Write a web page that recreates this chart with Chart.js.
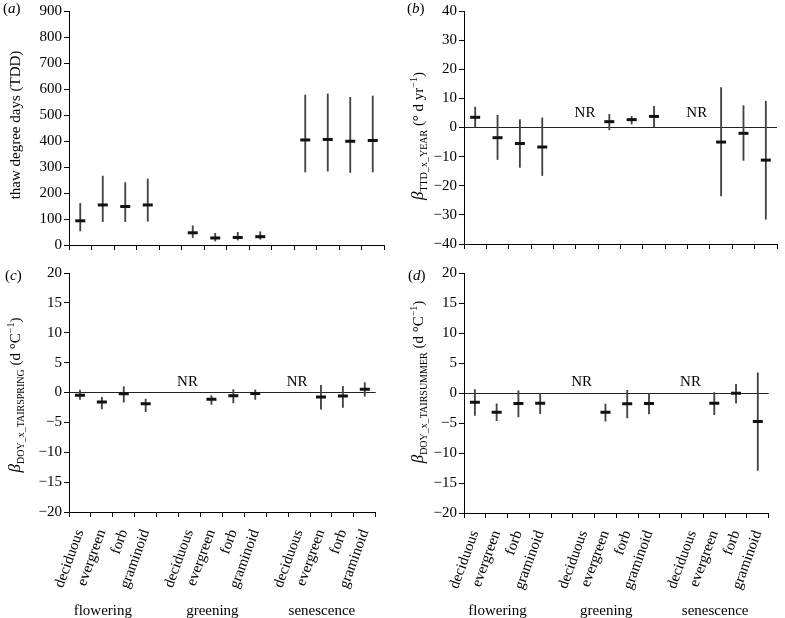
<!DOCTYPE html>
<html lang="en">
<head>
<meta charset="UTF-8">
<title>Phenology panels</title>
<script src="https://cdn.jsdelivr.net/npm/chart.js"></script>
<style>
    body { margin: 0; background: #fff; }
    .panel { position: absolute; }
</style>
</head>
<body>
<div class="panel" style="left:0;top:0"><canvas id="chartA" width="392" height="262"></canvas></div>
<div class="panel" style="left:392px;top:0"><canvas id="chartB" width="393" height="262"></canvas></div>
<div class="panel" style="left:0;top:262px"><canvas id="chartC" width="392" height="356"></canvas></div>
<div class="panel" style="left:392px;top:262px"><canvas id="chartD" width="393" height="356"></canvas></div>

<script>
// categories: 3 phenophases x 4 growth forms, with an empty slot between groups
const slots = ['deciduous', 'evergreen', 'forb', 'graminoid', '',
               'deciduous', 'evergreen', 'forb', 'graminoid', '',
               'deciduous', 'evergreen', 'forb', 'graminoid'];
const groups = ['flowering', 'greening', 'senescence'];
const groupMid = [1.5, 6.5, 11.5];
const nrSlots = [5, 10];

// (a) thaw degree days
const tddMean = [93, 154, 148, 154, null, 47, 27, 29, 32, null, 404, 406, 399, 402];
const tddLow  = [54, 90, 90, 91, null, 28, 15, 19, 22, null, 281, 284, 279, 281];
const tddHigh = [160, 265, 240, 254, null, 74, 45, 49, 51, null, 577, 581, 568, 573];

// (b) TDD x YEAR
const yearMean = [3.5, -3.5, -5.5, -6.7, null, null, 2, 2.7, 3.8, null, null, -5, -2, -11.2];
const yearLow  = [0, -11, -13.7, -16.5, null, null, -0.8, 1.2, 0, null, null, -23.5, -11.3, -31.5];
const yearHigh = [7, 4.2, 2.7, 3.3, null, null, 4.5, 3.8, 7.3, null, null, 13.7, 7.5, 9];

// (c) DOY x TAIRSPRING
const springMean = [-0.45, -1.6, -0.2, -1.9, null, null, -1.15, -0.55, -0.15, null, null, -0.75, -0.6, 0.55];
const springLow  = [-1.15, -2.75, -1.6, -3.2, null, null, -2.0, -1.75, -1.15, null, null, -2.8, -2.5, -0.6];
const springHigh = [0.4, -0.8, 1.0, -1.1, null, null, -0.5, 0.5, 0.45, null, null, 1.2, 1.05, 1.65];

// (d) DOY x TAIRSUMMER
const summerMean = [-1.55, -3.2, -1.75, -1.7, null, null, -3.2, -1.8, -1.75, null, null, -1.7, -0.05, -4.75];
const summerLow  = [-3.75, -4.6, -4.0, -3.45, null, null, -4.7, -4.15, -3.5, null, null, -3.6, -1.7, -12.9];
const summerHigh = [0.55, -1.8, 0.35, 0, null, null, -1.85, 0.45, 0, null, null, 0.05, 1.45, 3.35];

const SERIF = '"Liberation Serif", "Times New Roman", serif';
Chart.defaults.font.family = SERIF;
Chart.defaults.font.size = 15;
Chart.defaults.color = '#000';

function drawParts(ctx, parts, x, y, rotate, align) {
    ctx.save();
    ctx.translate(x, y);
    if (rotate) ctx.rotate(-Math.PI / 2);
    ctx.textBaseline = 'alphabetic';
    ctx.textAlign = 'left';
    ctx.fillStyle = '#000';
    let total = 0;
    parts.forEach(p => { ctx.font = p.font; total += ctx.measureText(p.t).width; });
    let px = align === 'center' ? -total / 2 : 0;
    parts.forEach(p => {
        ctx.font = p.font;
        ctx.fillText(p.t, px, p.dy || 0);
        px += ctx.measureText(p.t).width;
    });
    ctx.restore();
}

const F = '15px ' + SERIF;
const FI = 'italic 15px ' + SERIF;
const FB = 'italic 17px ' + SERIF;
const FS = '10px ' + SERIF;

function betaTitle(sub, unit) {
    return [
        { t: '\u03B2', font: FB },
        { t: sub, font: FS, dy: 4 },
        { t: ' (' + unit, font: F },
        { t: '\u22121', font: FS, dy: -6 },
        { t: ')', font: F }
    ];
}

function makePanel(id, cfg) {
    const canvas = document.getElementById(id);
    const W = canvas.width, H = canvas.height;
    const extras = {
        id: 'extras',
        afterDraw(chart) {
            const ctx = chart.ctx;
            const xs = chart.scales.x, ys = chart.scales.y;
            // panel letter
            drawParts(ctx, [
                { t: '(', font: F }, { t: cfg.letter, font: FI }, { t: ')', font: F }
            ], cfg.letterPos[0], cfg.letterPos[1], false, 'left');
            // y title
            drawParts(ctx, cfg.title, cfg.titlePos[0], cfg.titlePos[1], true, 'center');
            // NR markers
            if (cfg.nrY !== undefined) {
                ctx.save();
                ctx.font = F;
                ctx.textAlign = 'center';
                ctx.textBaseline = 'middle';
                nrSlots.forEach(s => ctx.fillText('NR', xs.getPixelForValue(s) - 2, ys.getPixelForValue(cfg.nrY)));
                ctx.restore();
            }
            // group labels under the rotated categories
            if (cfg.showLabels) {
                ctx.save();
                ctx.font = F;
                ctx.textAlign = 'center';
                ctx.textBaseline = 'middle';
                groups.forEach((g, i) => ctx.fillText(g, xs.getPixelForValue(groupMid[i]) - 10, H - 7));
                ctx.restore();
            }
        }
    };

    return new Chart(canvas, {
        type: 'bar',
        data: {
            labels: slots,
            datasets: [
                {
                    type: 'line',
                    data: cfg.mean,
                    showLine: false,
                    pointStyle: 'line',
                    pointRadius: 5,
                    pointBorderWidth: 3,
                    pointBorderColor: '#111',
                    pointBackgroundColor: '#111',
                    order: 0
                },
                {
                    type: 'bar',
                    data: cfg.low.map((l, i) => l === null ? null : [l, cfg.high[i]]),
                    backgroundColor: '#444',
                    barThickness: 1.2,
                    order: 1
                }
            ]
        },
        options: {
            responsive: false,
            animation: false,
            events: [],
            layout: {
                padding: { top: cfg.area.top, right: W - cfg.area.right, left: 0, bottom: 0 }
            },
            plugins: { legend: { display: false }, tooltip: { enabled: false } },
            scales: {
                x: {
                    type: 'category',
                    offset: true,
                    afterFit: s => { s.height = H - cfg.area.bottom; },
                    border: { color: '#000', width: 1 },
                    grid: { offset: true, drawOnChartArea: false, drawTicks: true, tickLength: 5, color: '#000' },
                    ticks: {
                        display: cfg.showLabels,
                        autoSkip: false,
                        minRotation: 70,
                        maxRotation: 70,
                        padding: 10,
                        font: { size: 15 }
                    }
                },
                y: {
                    min: cfg.range[0],
                    max: cfg.range[1],
                    afterFit: s => { s.width = cfg.area.left; },
                    border: { color: '#000', width: 1 },
                    grid: {
                        drawTicks: true,
                        tickLength: 5,
                        color: c => (cfg.zeroLine && c.tick && c.tick.value === 0) ? '#222' : 'rgba(0,0,0,0)',
                        tickColor: '#000'
                    },
                    ticks: {
                        stepSize: cfg.range[2],
                        padding: 2,
                        callback: v => String(v).replace('-', '\u2212')
                    }
                }
            }
        },
        plugins: [extras]
    });
}

makePanel('chartA', {
    letter: 'a', letterPos: [3, 13],
    mean: tddMean, low: tddLow, high: tddHigh,
    range: [0, 900, 100],
    area: { left: 69, right: 388, top: 7, bottom: 245 },
    zeroLine: false, showLabels: false,
    title: [{ t: 'thaw degree days (TDD)', font: F }],
    titlePos: [20, 125]
});

makePanel('chartB', {
    letter: 'b', letterPos: [15, 13],
    mean: yearMean, low: yearLow, high: yearHigh,
    range: [-40, 40, 10],
    area: { left: 72, right: 391, top: 7, bottom: 244 },
    zeroLine: true, showLabels: false, nrY: 5,
    title: betaTitle('TTD_x_YEAR', '\u00B0 d yr'),
    titlePos: [31, 136]
});

makePanel('chartC', {
    letter: 'c', letterPos: [5, 18],
    mean: springMean, low: springLow, high: springHigh,
    range: [-20, 20, 5],
    area: { left: 69, right: 388, top: 11, bottom: 250 },
    zeroLine: true, showLabels: true, nrY: 1.8,
    title: betaTitle('DOY_x_TAIRSPRING', 'd \u00B0C'),
    titlePos: [20, 133]
});

makePanel('chartD', {
    letter: 'd', letterPos: [16, 18],
    mean: summerMean, low: summerLow, high: summerHigh,
    range: [-20, 20, 5],
    area: { left: 72, right: 391, top: 11, bottom: 251 },
    zeroLine: true, showLabels: true, nrY: 1.85,
    title: betaTitle('DOY_x_TAIRSUMMER', 'd \u00B0C'),
    titlePos: [31, 120]
});
</script>
</body>
</html>
